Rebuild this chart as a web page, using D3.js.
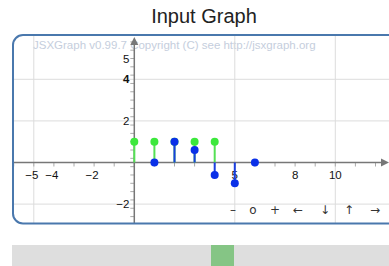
<!DOCTYPE html>
<html><head><meta charset="utf-8">
<script src="https://cdn.jsdelivr.net/npm/d3@7"></script>
<style>
html,body{margin:0;padding:0;background:#fff;overflow:hidden;}
svg{display:block;font-family:"Liberation Sans",Arial,sans-serif;}
</style></head>
<body><svg id="c" width="389" height="266"></svg>
<script>
const title = "Input Graph";
const copyright = "JSXGraph v0.99.7 Copyright (C) see http://jsxgraph.org";
// input series (green)
const inputN = [0, 1, 2, 3, 4];
const inputV = [1, 1, 1, 1, 1];
// output series (blue)
const outputN = [1, 2, 3, 4, 5, 6];
const outputV = [0, 1, 0.6, -0.6, -1, 0];
// axis ticks & labels
const xGrid = [-5, 0, 5, 10];
const yGrid = [-2, 2, 4];
const xLabels = [-5, -4, -2, 5, 8, 10];
const yLabels = [5, 4, 2, -2];
const navLabels = ["\u2013", "o", "+", "\u2190", "\u2193", "\u2191", "\u2192"];

const svg = d3.select("#c");
const x = d3.scaleLinear().domain([0, 10]).range([134.3, 335.3]);
const y = d3.scaleLinear().domain([0, 4]).range([162.5, 79.3]);
const frame = {left: 13, top: 35, right: 400, bottom: 223.5};

// title
svg.append("text").attr("x", 204).attr("y", 23).attr("text-anchor", "middle")
  .attr("font-size", 20).attr("fill", "#222").text(title);

const defs = svg.append("defs");
defs.append("clipPath").attr("id", "fc").append("rect")
  .attr("x", frame.left).attr("y", frame.top)
  .attr("width", frame.right - frame.left).attr("height", frame.bottom - frame.top).attr("rx", 10);

const g = svg.append("g").attr("clip-path", "url(#fc)");

// copyright
g.append("text").attr("x", 33).attr("y", 49).attr("font-size", 11.5)
  .attr("fill", "#c5cedd").text(copyright);

// grid
g.selectAll(".gx").data(xGrid.filter(d => d !== 0)).join("line")
  .attr("x1", d => x(d)).attr("x2", d => x(d))
  .attr("y1", frame.top).attr("y2", frame.bottom)
  .attr("stroke", "#dcdcdc").attr("stroke-width", 1);
g.selectAll(".gy").data(yGrid).join("line")
  .attr("y1", d => y(d)).attr("y2", d => y(d))
  .attr("x1", frame.left).attr("x2", frame.right)
  .attr("stroke", "#dcdcdc").attr("stroke-width", 1);

// minor ticks
const xt = d3.range(-6, 13, 1);
g.selectAll(".tx").data(xt).join("line")
  .attr("x1", d => x(d)).attr("x2", d => x(d))
  .attr("y1", y(0)).attr("y2", y(0) + 4)
  .attr("stroke", "#aaa").attr("stroke-width", 1);
const yt = d3.range(-3, 6.01, 0.4).map(v => Math.round(v * 10) / 10);
g.selectAll(".ty").data(yt).join("line")
  .attr("y1", d => y(d)).attr("y2", d => y(d))
  .attr("x1", x(0) - 4).attr("x2", x(0))
  .attr("stroke", "#aaa").attr("stroke-width", 1);

// axes
g.append("line").attr("x1", frame.left).attr("x2", 384)
  .attr("y1", y(0)).attr("y2", y(0)).attr("stroke", "#777").attr("stroke-width", 1.5);
g.append("path").attr("d", `M389,${y(0)} L381,${y(0) - 4} L381,${y(0) + 4} Z`).attr("fill", "#777");
g.append("line").attr("x1", x(0)).attr("x2", x(0))
  .attr("y1", 44).attr("y2", frame.bottom).attr("stroke", "#777").attr("stroke-width", 1.5);
g.append("path").attr("d", `M${x(0)},37 L${x(0) - 4},45 L${x(0) + 4},45 Z`).attr("fill", "#777");

// labels
g.selectAll(".lx").data(xLabels).join("text")
  .attr("x", d => x(d) + (d < 0 ? -2 : 0)).attr("y", y(0) + 16)
  .attr("text-anchor", "middle").attr("font-size", 11.5).attr("fill", "#111")
  .text(d => d < 0 ? "\u2212" + Math.abs(d) : d);
g.selectAll(".ly").data(yLabels).join("text")
  .attr("x", x(0) - 5).attr("y", d => y(d) + 4)
  .attr("text-anchor", "end").attr("font-size", 11.5).attr("fill", "#111")
  .attr("font-weight", d => d === 4 ? "bold" : "normal")
  .text(d => d < 0 ? "\u2212" + Math.abs(d) : d);

// stems: input (green)
const inp = inputN.map((n, i) => ({n, v: inputV[i]}));
const out = outputN.map((n, i) => ({n, v: outputV[i]}));
g.selectAll(".si").data(inp).join("line")
  .attr("x1", d => x(d.n)).attr("x2", d => x(d.n))
  .attr("y1", y(0)).attr("y2", d => y(d.v))
  .attr("stroke", "#55e055").attr("stroke-width", 2);
g.selectAll(".pi").data(inp).join("circle")
  .attr("cx", d => x(d.n)).attr("cy", d => y(d.v)).attr("r", 4)
  .attr("fill", "#3ce83c");
g.selectAll(".so").data(out).join("line")
  .attr("x1", d => x(d.n)).attr("x2", d => x(d.n))
  .attr("y1", y(0)).attr("y2", d => y(d.v))
  .attr("stroke", "#1a3ee0").attr("stroke-width", 2);
g.selectAll(".po").data(out).join("circle")
  .attr("cx", d => x(d.n)).attr("cy", d => y(d.v)).attr("r", 4)
  .attr("fill", "#0a30e8");

// navigation
const navX = [233, 253, 275, 298, 325, 349, 375];
g.selectAll(".nav").data(navLabels).join("text")
  .attr("x", (d, i) => navX[i]).attr("y", 214)
  .attr("text-anchor", "middle").attr("font-size", 12).attr("fill", "#333")
  .attr("font-family", "'DejaVu Sans', sans-serif")
  .text(d => d);

// frame border
svg.append("rect").attr("x", frame.left).attr("y", frame.top)
  .attr("width", frame.right - frame.left).attr("height", frame.bottom - frame.top)
  .attr("rx", 10).attr("fill", "none").attr("stroke", "#4a78ad").attr("stroke-width", 2);

// slider
svg.append("rect").attr("x", 12).attr("y", 245).attr("width", 377).attr("height", 21).attr("fill", "#dedede");
svg.append("rect").attr("x", 211).attr("y", 245).attr("width", 23).attr("height", 21).attr("fill", "#85c585");
</script></body></html>
